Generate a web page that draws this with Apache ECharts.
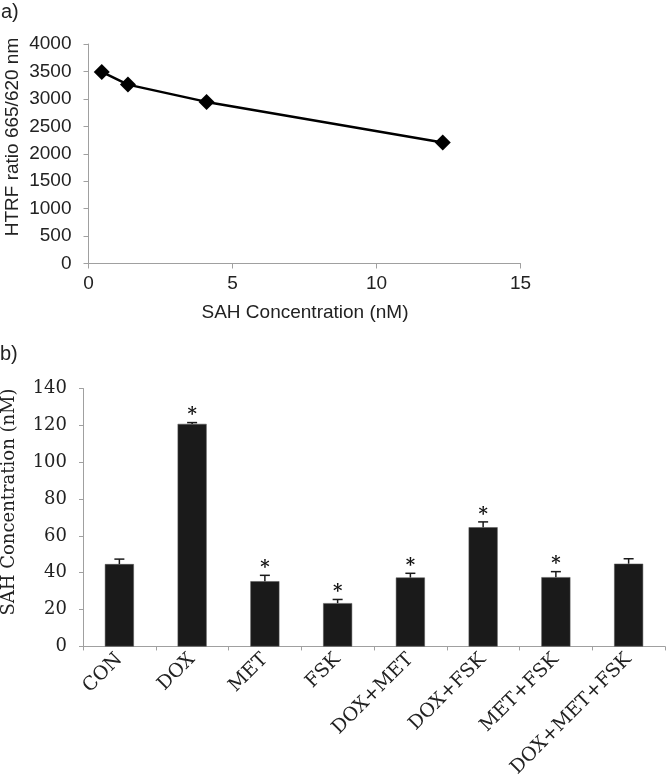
<!DOCTYPE html>
<html><head><meta charset="utf-8">
<script src="https://cdn.jsdelivr.net/npm/echarts@6/dist/echarts.min.js"></script>
<style>html,body{margin:0;padding:0;background:#fff}#c{width:666px;height:780px}</style>
</head><body><div id="c"></div>
<script>
// Panel a) calibration curve
const concX = [0.46, 1.37, 4.1, 12.3];
const htrfY = [3490, 3260, 2945, 2205];
// Panel b) SAH concentration per treatment
const groups = ['CON','DOX','MET','FSK','DOX+MET','DOX+FSK','MET+FSK','DOX+MET+FSK'];
const sahMean = [44.7, 120.8, 35.4, 23.5, 37.4, 64.7, 37.6, 44.9];
const sahErr = [2.7, 0.7, 3.2, 2.0, 2.3, 2.9, 3.0, 2.7];
const sig = [0, 1, 1, 1, 1, 1, 1, 0];

const sans = 'Liberation Sans, Arial, sans-serif';
const serif = 'DejaVu Serif, serif';
const axisGray = '#a0a0a0';
const chart = echarts.init(document.getElementById('c'));

const lineData = concX.map((x, i) => [x, htrfY[i]]);
const errData = groups.map((g, i) => [i, sahMean[i], sahErr[i], sig[i]]);
const plain = v => String(v);

chart.setOption({
  animation: false,
  backgroundColor: '#fff',
  grid: [
    {left: 88.5, top: 44, width: 432, height: 219.5},
    {left: 83, top: 388.5, width: 582, height: 259}
  ],
  xAxis: [
    {type: 'value', gridIndex: 0, min: 0, max: 15, interval: 5,
     splitLine: {show: false},
     axisLine: {show: true, onZero: false, lineStyle: {color: axisGray, width: 1}},
     axisTick: {show: true, length: 5, lineStyle: {color: axisGray}},
     axisLabel: {color: '#222', fontFamily: sans, fontSize: 19, margin: 11, formatter: plain}},
    {type: 'category', gridIndex: 1, data: groups, boundaryGap: true,
     axisLine: {show: true, lineStyle: {color: axisGray, width: 1}},
     axisTick: {show: true, length: 4, alignWithLabel: false, interval: 0, lineStyle: {color: axisGray}},
     axisLabel: {color: '#222', fontFamily: serif, fontSize: 19, rotate: 45, interval: 0, margin: 10}}
  ],
  yAxis: [
    {type: 'value', gridIndex: 0, min: 0, max: 4000, interval: 500,
     splitLine: {show: false},
     axisLine: {show: true, lineStyle: {color: axisGray, width: 1}},
     axisTick: {show: true, length: 5, lineStyle: {color: axisGray}},
     axisLabel: {color: '#222', fontFamily: sans, fontSize: 19, margin: 17, formatter: plain}},
    {type: 'value', gridIndex: 1, min: 0, max: 140, interval: 20,
     splitLine: {show: false},
     axisLine: {show: true, lineStyle: {color: axisGray, width: 1}},
     axisTick: {show: true, length: 4, lineStyle: {color: axisGray}},
     axisLabel: {color: '#222', fontFamily: serif, fontSize: 18, margin: 16, formatter: plain}}
  ],
  series: [
    {type: 'line', xAxisIndex: 0, yAxisIndex: 0, data: lineData,
     symbol: 'diamond', symbolSize: 16,
     lineStyle: {color: '#000', width: 2.5},
     itemStyle: {color: '#000'}},
    {type: 'bar', xAxisIndex: 1, yAxisIndex: 1, data: sahMean,
     barWidth: 29, itemStyle: {color: '#1a1a1a', borderColor: '#555', borderWidth: 0.5}},
    {type: 'custom', xAxisIndex: 1, yAxisIndex: 1, data: errData, z: 5,
     renderItem: function (params, api) {
       const idx = api.value(0), m = api.value(1), e = api.value(2), s = api.value(3);
       const p0 = api.coord([idx, m]);
       const p1 = api.coord([idx, m + e]);
       const st = {stroke: '#1a1a1a', lineWidth: 1.5};
       const children = [
         {type: 'line', shape: {x1: p0[0], y1: p0[1], x2: p1[0], y2: p1[1]}, style: st},
         {type: 'line', shape: {x1: p1[0] - 5, y1: p1[1], x2: p1[0] + 5, y2: p1[1]}, style: st}
       ];
       if (s) {
         children.push({type: 'text', style: {text: '*', x: p1[0], y: p1[1] - 7,
           fill: '#111', font: 'bold 18px ' + serif, align: 'center', verticalAlign: 'middle'}});
       }
       return {type: 'group', children: children};
     }}
  ],
  graphic: [
    {type: 'text', left: 1, top: 2, style: {text: 'a)', font: '20px ' + sans, fill: '#222'}},
    {type: 'text', left: 0, top: 344, style: {text: 'b)', font: '20px ' + sans, fill: '#222'}},
    {type: 'text', x: 305, y: 313, style: {text: 'SAH Concentration (nM)', font: '19px ' + sans, fill: '#222', align: 'center', verticalAlign: 'middle'}},
    {type: 'text', x: 12.5, y: 137, rotation: Math.PI / 2, style: {text: 'HTRF ratio 665/620 nm', font: '19px ' + sans, fill: '#222', align: 'center', verticalAlign: 'middle'}},
    {type: 'text', x: 9, y: 502, rotation: Math.PI / 2, style: {text: 'SAH Concentration (nM)', font: '18px ' + serif, fill: '#222', align: 'center', verticalAlign: 'middle'}}
  ]
});
</script>
</body></html>
